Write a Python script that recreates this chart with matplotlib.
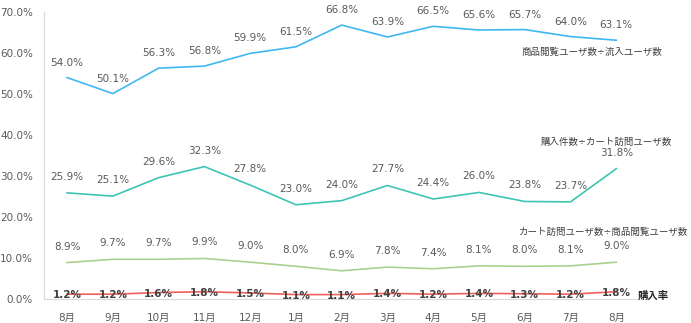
import matplotlib
matplotlib.use("Agg")
import matplotlib.pyplot as plt
from matplotlib.ticker import FuncFormatter

plt.rcParams['font.family'] = ['DejaVu Sans', 'Noto Sans CJK JP']

months = ["8月", "9月", "10月", "11月", "12月", "1月", "2月", "3月", "4月", "5月", "6月", "7月", "8月"]
view_rate = [54.0, 50.1, 56.3, 56.8, 59.9, 61.5, 66.8, 63.9, 66.5, 65.6, 65.7, 64.0, 63.1]
cart_buy_rate = [25.9, 25.1, 29.6, 32.3, 27.8, 23.0, 24.0, 27.7, 24.4, 26.0, 23.8, 23.7, 31.8]
cart_visit_rate = [8.9, 9.7, 9.7, 9.9, 9.0, 8.0, 6.9, 7.8, 7.4, 8.1, 8.0, 8.1, 9.0]
purchase_rate = [1.2, 1.2, 1.6, 1.8, 1.5, 1.1, 1.1, 1.4, 1.2, 1.4, 1.3, 1.2, 1.8]

series_names = ["商品閲覧ユーザ数÷流入ユーザ数", "購入件数÷カート訪問ユーザ数",
                "カート訪問ユーザ数÷商品閲覧ユーザ数", "購入率"]

fig = plt.figure(figsize=(6.91, 3.23), dpi=100)
ax = fig.add_axes([0.064, 0.074, 0.861, 0.889])
x = list(range(len(months)))

lines = [
    (view_rate, "#3FB8F2", 15, "#595959", "normal"),
    (cart_buy_rate, "#3EC5B2", 16, "#595959", "normal"),
    (cart_visit_rate, "#A9D18E", 16, "#595959", "normal"),
    (purchase_rate, "#F0605A", -1, "#404040", "bold"),
]

for vals, color, dy, tcol, weight in lines:
    ax.plot(x, vals, color=color, lw=1.2)
    for xi, v in zip(x, vals):
        ax.annotate(f"{v:.1f}%", (xi, v), xytext=(0, dy), textcoords="offset pixels",
                    ha="center", va="center", fontsize=7.5, color=tcol, fontweight=weight)

# series names near the last point
last = len(months) - 1
name_style = dict(textcoords="offset pixels", ha="right", va="center", fontsize=6.8,
                  color="#404040", annotation_clip=False)
ax.annotate(series_names[0], (last, view_rate[-1]), xytext=(46, -12), **name_style)
ax.annotate(series_names[1], (last, cart_buy_rate[-1]), xytext=(56, 26), **name_style)
ax.annotate(series_names[2], (last, cart_visit_rate[-1]), xytext=(72, 30), **name_style)
ax.annotate(series_names[3], (last, purchase_rate[-1]), xytext=(21, -4), textcoords="offset pixels",
            ha="left", va="center", fontsize=7.5, color="#262626", fontweight="bold",
            annotation_clip=False)

ax.set_xlim(-0.5, len(months) - 0.5)
ax.set_ylim(0, 70)
ax.set_yticks(range(0, 71, 10))
ax.yaxis.set_major_formatter(FuncFormatter(lambda v, p: f"{v:.1f}%"))
ax.set_xticks(x)
ax.set_xticklabels(months)
ax.tick_params(axis="both", length=0, labelsize=7.5, colors="#595959")
ax.tick_params(axis="x", pad=10)
ax.tick_params(axis="y", pad=8)
for s in ["top", "right"]:
    ax.spines[s].set_visible(False)
ax.spines["left"].set_color("#D9D9D9")
ax.spines["bottom"].set_color("#D9D9D9")

fig.savefig("out.png", dpi=100)
